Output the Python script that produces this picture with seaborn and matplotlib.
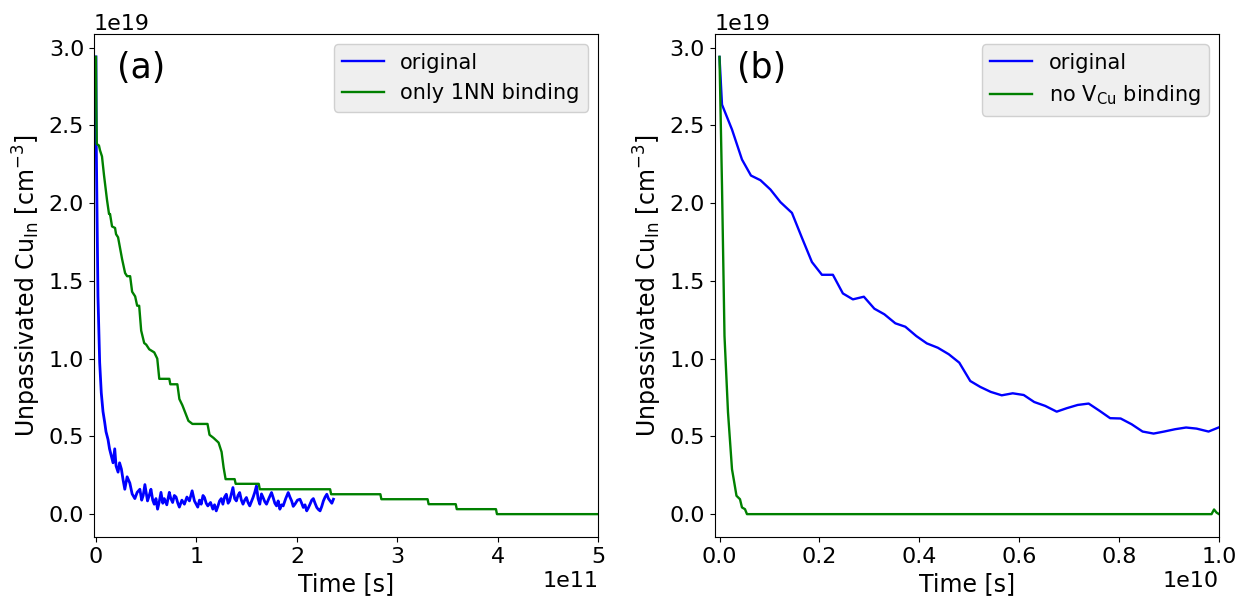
import numpy as np
import pandas as pd
import matplotlib
matplotlib.use("Agg")
import matplotlib.pyplot as plt
import seaborn as sns

# ---- panel (a): time in units of 1e11 s, concentration in units of 1e19 cm^-3
a_orig_t = [0.00, 0.003, 0.02, 0.037, 0.053, 0.07, 0.087, 0.10, 0.12, 0.135, 0.153, 0.17,
            0.187, 0.20, 0.22, 0.235, 0.253, 0.27, 0.287, 0.31, 0.337, 0.36, 0.387, 0.41,
            0.437, 0.455, 0.47, 0.487, 0.513, 0.53, 0.547, 0.565, 0.58, 0.597, 0.613, 0.63,
            0.647, 0.665, 0.68, 0.705, 0.73, 0.745, 0.763, 0.78, 0.797, 0.815, 0.83, 0.855,
            0.88, 0.905, 0.93, 0.957, 0.98, 1.00, 1.013, 1.03, 1.047, 1.065, 1.08, 1.097,
            1.113, 1.14, 1.163, 1.18, 1.197, 1.213, 1.23, 1.247, 1.263, 1.28, 1.297, 1.315,
            1.33, 1.347, 1.363, 1.38, 1.397, 1.413, 1.43, 1.447, 1.463, 1.48, 1.497, 1.513,
            1.53, 1.547, 1.563, 1.58, 1.597, 1.613, 1.63, 1.647, 1.663, 1.68, 1.697, 1.72,
            1.747, 1.763, 1.78, 1.797, 1.813, 1.83, 1.847, 1.863, 1.888, 1.913, 1.93, 1.947,
            1.963, 1.98, 2.005, 2.03, 2.047, 2.063, 2.08, 2.097, 2.113, 2.13, 2.147, 2.163,
            2.18, 2.197, 2.213, 2.23, 2.247, 2.263, 2.28, 2.297, 2.313, 2.33, 2.347, 2.363]
a_orig_v = [2.94, 2.39, 1.40, 0.975, 0.78, 0.66, 0.59, 0.53, 0.48, 0.42, 0.375, 0.33,
            0.42, 0.31, 0.27, 0.33, 0.29, 0.22, 0.16, 0.24, 0.20, 0.13, 0.10, 0.14,
            0.16, 0.09, 0.12, 0.19, 0.085, 0.12, 0.16, 0.09, 0.064, 0.10, 0.032, 0.08,
            0.14, 0.07, 0.10, 0.06, 0.14, 0.10, 0.075, 0.12, 0.11, 0.07, 0.045, 0.09,
            0.064, 0.11, 0.085, 0.15, 0.085, 0.06, 0.045, 0.09, 0.064, 0.12, 0.107, 0.07,
            0.053, 0.075, 0.032, 0.06, 0.021, 0.05, 0.085, 0.10, 0.064, 0.11, 0.128, 0.07,
            0.085, 0.13, 0.171, 0.10, 0.085, 0.12, 0.139, 0.09, 0.064, 0.09, 0.107, 0.075,
            0.053, 0.08, 0.107, 0.14, 0.182, 0.10, 0.064, 0.13, 0.107, 0.08, 0.064, 0.10,
            0.139, 0.107, 0.07, 0.053, 0.085, 0.032, 0.06, 0.053, 0.10, 0.139, 0.11, 0.085,
            0.05, 0.064, 0.09, 0.096, 0.07, 0.043, 0.06, 0.021, 0.04, 0.064, 0.09, 0.10,
            0.07, 0.043, 0.03, 0.021, 0.05, 0.085, 0.11, 0.128, 0.10, 0.085, 0.07, 0.096]

a_1nn_t = [0.000, 0.004, 0.008, 0.03, 0.04, 0.06, 0.08, 0.11, 0.13, 0.14, 0.16, 0.19,
           0.20, 0.22, 0.26, 0.29, 0.31, 0.34, 0.36, 0.39, 0.41, 0.43, 0.45, 0.48,
           0.50, 0.53, 0.58, 0.61, 0.63, 0.73, 0.74, 0.81, 0.83, 0.86, 0.89, 0.92,
           0.96, 1.11, 1.13, 1.17, 1.22, 1.25, 1.27, 1.29, 1.38, 1.39, 1.62, 1.63,
           2.33, 2.34, 2.83, 2.84, 3.30, 3.31, 3.58, 3.59, 3.98, 3.99, 5.20]
a_1nn_v = [2.94, 2.60, 2.38, 2.37, 2.34, 2.30, 2.18, 2.02, 1.93, 1.93, 1.85, 1.84,
           1.80, 1.78, 1.64, 1.55, 1.53, 1.53, 1.43, 1.40, 1.34, 1.34, 1.18, 1.10,
           1.09, 1.06, 1.04, 1.00, 0.87, 0.87, 0.835, 0.835, 0.74, 0.70, 0.65, 0.60,
           0.58, 0.58, 0.51, 0.49, 0.46, 0.40, 0.30, 0.225, 0.225, 0.195, 0.195, 0.16,
           0.16, 0.128, 0.128, 0.096, 0.096, 0.064, 0.064, 0.032, 0.032, 0.0, 0.0]

# ---- panel (b): time in units of 1e10 s
b_orig_t = [0.000, 0.005, 0.025, 0.045, 0.063, 0.082, 0.102, 0.122, 0.145, 0.165, 0.185,
            0.205, 0.227, 0.247, 0.267, 0.289, 0.310, 0.330, 0.352, 0.372, 0.394, 0.415,
            0.437, 0.459, 0.480, 0.502, 0.522, 0.543, 0.565, 0.587, 0.609, 0.630, 0.652,
            0.675, 0.695, 0.717, 0.739, 0.761, 0.782, 0.803, 0.825, 0.847, 0.869, 0.890,
            0.912, 0.934, 0.955, 0.979, 0.999]
b_orig_v = [2.94, 2.633, 2.473, 2.28, 2.177, 2.147, 2.087, 2.006, 1.937, 1.777, 1.621,
            1.539, 1.539, 1.419, 1.381, 1.398, 1.321, 1.285, 1.227, 1.205, 1.145, 1.098,
            1.070, 1.028, 0.974, 0.856, 0.818, 0.786, 0.764, 0.777, 0.766, 0.721, 0.696,
            0.659, 0.681, 0.702, 0.711, 0.664, 0.617, 0.615, 0.578, 0.531, 0.518, 0.531,
            0.546, 0.557, 0.550, 0.531, 0.557]

b_novcu_t = [0.000, 0.005, 0.010, 0.017, 0.025, 0.029, 0.034, 0.041, 0.045, 0.051, 0.055,
             0.30, 0.60, 0.90, 0.985, 0.990, 0.995, 1.000]
b_novcu_v = [2.94, 2.109, 1.145, 0.655, 0.289, 0.214, 0.118, 0.096, 0.043, 0.032, 0.0,
             0.0, 0.0, 0.0, 0.0, 0.03, 0.01, 0.0]

df_a_orig = pd.DataFrame({"t": np.array(a_orig_t) * 1e11, "n": np.array(a_orig_v) * 1e19})
df_a_1nn = pd.DataFrame({"t": np.array(a_1nn_t) * 1e11, "n": np.array(a_1nn_v) * 1e19})
df_b_orig = pd.DataFrame({"t": np.array(b_orig_t) * 1e10, "n": np.array(b_orig_v) * 1e19})
df_b_novcu = pd.DataFrame({"t": np.array(b_novcu_t) * 1e10, "n": np.array(b_novcu_v) * 1e19})

plt.rcParams["font.family"] = ["DejaVu Sans"]
plt.rcParams["font.size"] = 16

fig, (ax1, ax2) = plt.subplots(1, 2, figsize=(12.41, 5.99), dpi=100)
fig.subplots_adjust(left=0.0757, right=0.9823, top=0.9432, bottom=0.1035, wspace=0.23)

ylab = r"Unpassivated Cu$_{\mathrm{In}}$ [cm$^{-3}$]"
leg_kw = dict(loc="upper right", facecolor="#efefef", framealpha=1.0, edgecolor="#d0d0d0",
              fontsize=15)

sns.lineplot(data=df_a_orig, x="t", y="n", ax=ax1, color="blue", lw=2.0,
             sort=False, estimator=None, label="original")
sns.lineplot(data=df_a_1nn, x="t", y="n", ax=ax1, color="green", lw=1.7,
             sort=False, estimator=None, label="only 1NN binding")
ax1.set_xlim(-0.02e11, 5e11)
ax1.set_ylim(-0.147e19, 3.087e19)
ax1.set_xlabel("Time [s]")
ax1.set_ylabel(ylab)
ax1.text(0.045, 0.932, "(a)", transform=ax1.transAxes, fontsize=25, va="center", ha="left")

sns.lineplot(data=df_b_orig, x="t", y="n", ax=ax2, color="blue", lw=1.7,
             sort=False, estimator=None, label="original")
sns.lineplot(data=df_b_novcu, x="t", y="n", ax=ax2, color="green", lw=1.7,
             sort=False, estimator=None, label=r"no V$_{\mathrm{Cu}}$ binding")
ax2.set_xlim(-0.01e10, 1.0e10)
ax2.set_ylim(-0.147e19, 3.087e19)
ax2.set_xlabel("Time [s]")
ax2.set_ylabel(ylab)
ax2.text(0.045, 0.932, "(b)", transform=ax2.transAxes, fontsize=25, va="center", ha="left")

for ax in (ax1, ax2):
    leg = ax.legend(**leg_kw)
    for handle in leg.get_lines():
        handle.set_linewidth(1.7)
    ax.tick_params(labelsize=16)
    ax.xaxis.label.set_size(17)
    ax.yaxis.label.set_size(17)
    ax.xaxis.get_offset_text().set_size(16)
    ax.yaxis.get_offset_text().set_size(16)

fig.savefig("out.png", dpi=100)
